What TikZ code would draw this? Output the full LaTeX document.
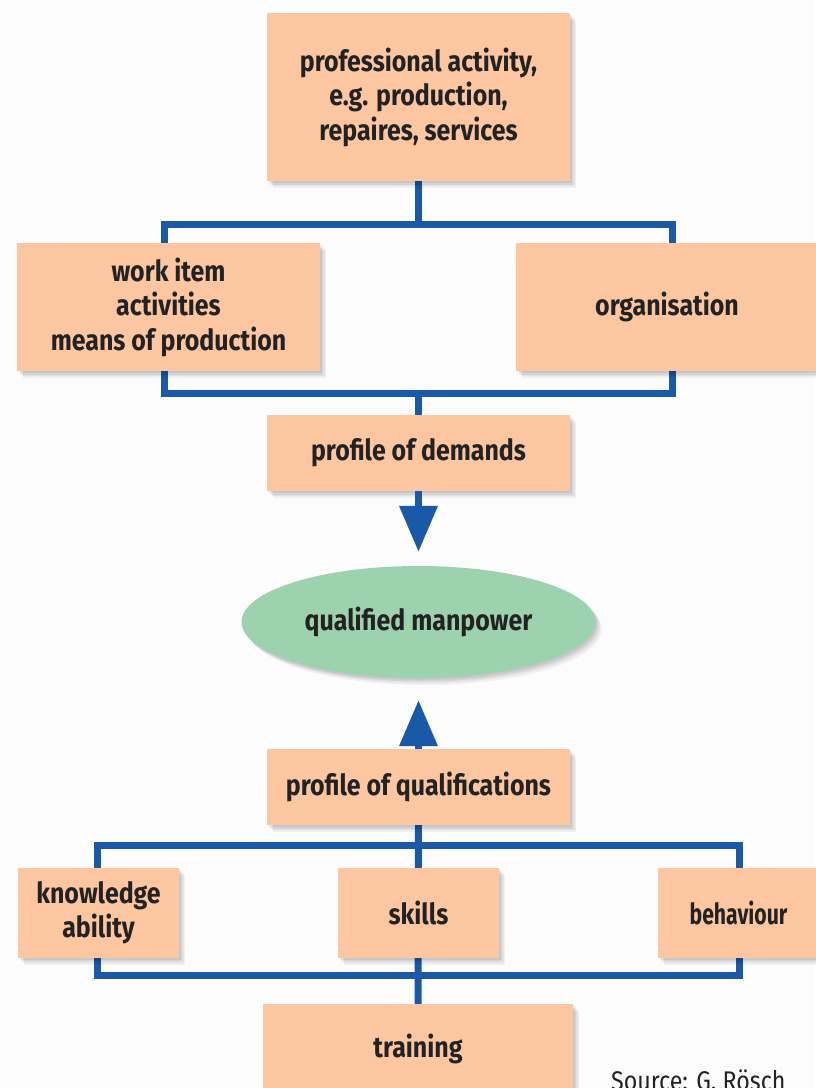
\documentclass[tikz,border=0pt]{standalone}
\usepackage{fontspec}
\usepackage{graphicx}
\setmainfont{Fira Sans}[FakeStretch=0.86]
\usetikzlibrary{arrows.meta,shapes.geometric,backgrounds}
\definecolor{peach}{HTML}{FBC6A0}
\definecolor{lineblue}{HTML}{1A59A8}
\definecolor{mint}{HTML}{9CD2AD}
\definecolor{txt}{HTML}{222222}
\tikzset{
  softshadow/.style={
    preaction={fill=black, opacity=0.05, transform canvas={xshift=6pt,yshift=-7pt}},
    preaction={fill=black, opacity=0.05, transform canvas={xshift=4.5pt,yshift=-5pt}},
    preaction={fill=black, opacity=0.06, transform canvas={xshift=3pt,yshift=-3.5pt}},
    preaction={fill=black, opacity=0.06, transform canvas={xshift=1.5pt,yshift=-2pt}}},
  box/.style={rectangle, fill=peach, draw=none, inner sep=0pt, align=center,
    text=txt, font=\fontsize{29}{34.5}\selectfont\bfseries, softshadow},
  oval/.style={ellipse, fill=mint, draw=none, inner sep=0pt, align=center,
    text=txt, font=\fontsize{29}{34.5}\selectfont\bfseries, softshadow},
  conn/.style={draw=lineblue, line width=7pt},
  arr/.style={conn, -{Triangle[width=37pt,length=46pt]}},
}
\begin{document}
\begin{tikzpicture}[x=1pt,y=-1pt]
\useasboundingbox (0,0) rectangle (815,1088);

\node[box, minimum width=303pt, minimum height=168pt] (top) at (418.5,97) {professional activity,\\e.g. production,\\repaires, services};
\node[box, minimum width=303pt, minimum height=128pt] (wi) at (168.5,307) {work item\\activities\\means of production};
\node[box, minimum width=302pt, minimum height=128pt] (org) at (667,307) {organisation};
\node[box, minimum width=303pt, minimum height=76pt] (pod) at (418.5,453) {profile of demands};
\node[oval, minimum width=354pt, minimum height=112pt] (qm) at (418.5,622) {qualified manpower};
\node[box, minimum width=303pt, minimum height=76pt] (poq) at (418.5,787) {profile of qualifications};
\node[box, minimum width=161pt, minimum height=90pt] (ka) at (98.5,912.5) {knowledge\\ability};
\node[box, minimum width=161pt, minimum height=90pt] (sk) at (418.5,912.5) {skills};
\node[box, minimum width=161pt, minimum height=90pt] (beh) at (738.5,912.5) {\scalebox{0.85}[1]{behaviour}};
\node[box, minimum width=310pt, minimum height=90pt] (tr) at (418,1049) {training};

\node[anchor=base west, inner sep=0pt, text=txt, font=\fontsize{27}{30}\selectfont] (src) at (611,1090) {Source: G. Rösch};

\coordinate (b1a) at (164,224);
\coordinate (b1b) at (672,393);
\coordinate (b2a) at (97,845);
\coordinate (b2b) at (739,975);

\begin{pgfonlayer}{background}
  \fill[white!99!black] (0,0) rectangle (815,1088);
  \draw[conn] (b1a) rectangle (b1b);
  \draw[conn] (top.south) -- (top.south |- b1a);
  \draw[conn] (pod.north) -- (pod.north |- b1b);
  \draw[conn] (b2a) rectangle (b2b);
  \draw[conn] (poq.south) -- (tr.north);
\end{pgfonlayer}
\draw[arr, shorten >=14pt] (pod.south) -- (qm.north);
\draw[arr, shorten >=22pt] (poq.north) -- (qm.south);
\end{tikzpicture}
\end{document}
